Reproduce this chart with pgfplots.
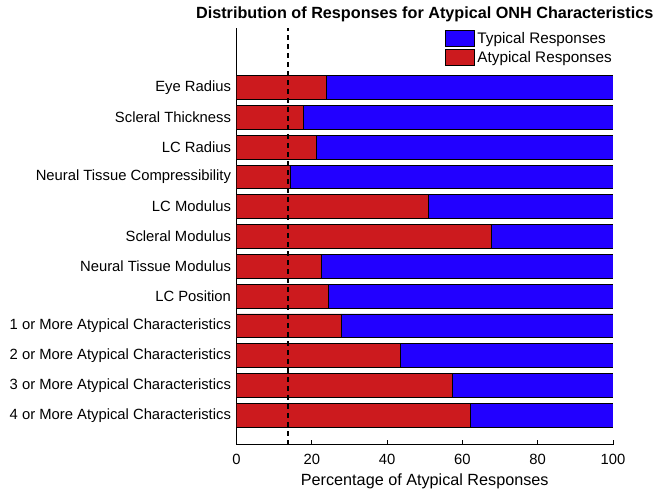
\documentclass[border=0pt]{standalone}
\usepackage{pgfplots}
\pgfplotsset{compat=1.18}
\usepackage{fontspec}
\setmainfont{Liberation Sans}

\definecolor{typblue}{RGB}{34,0,255}
\definecolor{atyred}{RGB}{204,26,30}

\pgfplotsset{
  respbar/.style={xbar stacked, bar width=23.8pt, draw=black, line width=0.8pt,
    legend image code/.code={\draw[##1, draw=black, line width=1pt] (0pt,-8pt) rectangle (29pt,8pt);}},
}

\begin{document}
\begin{tikzpicture}
\begin{axis}[
  scale only axis,
  width=376.5pt, height=417pt,
  xmin=0, xmax=100, ymin=0, ymax=14,
  axis lines*=left,
  axis line style={line width=1pt, black},
  xtick={0,20,40,60,80,100},
  xtick align=inside,
  major tick length=5pt,
  tick style={line width=0.8pt, black},
  ytick={1,...,12},
  yticklabels={4 or More Atypical Characteristics,
    3 or More Atypical Characteristics,
    2 or More Atypical Characteristics,
    1 or More Atypical Characteristics,
    LC Position, Neural Tissue Modulus, Scleral Modulus, LC Modulus,
    Neural Tissue Compressibility, LC Radius, Scleral Thickness, Eye Radius},
  ytick style={draw=none},
  ticklabel style={font=\fontsize{14.8}{17}\selectfont},
  /pgf/number format/assume math mode=true,
  xticklabel style={yshift=-6pt},
  yticklabel style={xshift=-2pt},
  xlabel={Percentage of Atypical Responses},
  xlabel style={font=\fontsize{16.2}{19}\selectfont, yshift=-2pt},
  title={\textbf{Distribution of Responses for Atypical ONH Characteristics}},
  title style={font=\fontsize{16.2}{19}\selectfont, yshift=-3pt},
  legend style={draw=none, fill=none, at={(1,1)}, anchor=north east,
    font=\fontsize{15.3}{18}\selectfont, row sep=2pt,
    inner sep=0pt, xshift=1pt, yshift=-2pt},
  legend cell align=left,
  reverse legend,
]
\addplot[respbar, fill=atyred] coordinates {
  (62.1,1) (57.3,2) (43.5,3) (27.8,4) (24.4,5) (22.6,6)
  (67.8,7) (50.9,8) (14.2,9) (21.3,10) (17.9,11) (23.8,12)};
\addlegendentry{Atypical Responses}
\addplot[respbar, fill=typblue] coordinates {
  (37.9,1) (42.7,2) (56.5,3) (72.2,4) (75.6,5) (77.4,6)
  (32.2,7) (49.1,8) (85.8,9) (78.7,10) (82.1,11) (76.2,12)};
\addlegendentry{Typical Responses}
\addplot[sharp plot, stack plots=false, black, line width=1.6pt, dash pattern=on 5pt off 4pt, forget plot]
  coordinates {(13.7,0) (13.7,14)};
\end{axis}
\pgfresetboundingbox
\path[use as bounding box] ([xshift=-236.5pt,yshift=-49pt]current axis.south west)
  rectangle ([xshift=41pt,yshift=28pt]current axis.north east);
\end{tikzpicture}
\end{document}
